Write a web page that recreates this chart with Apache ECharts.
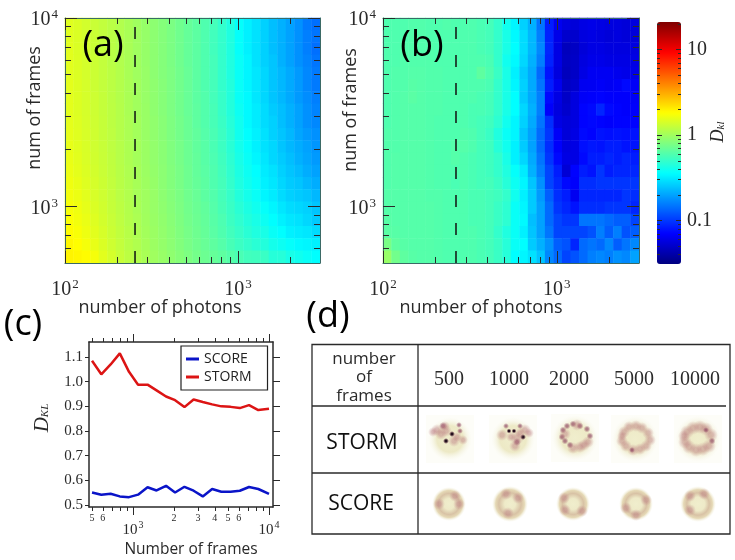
<!DOCTYPE html>
<html><head><meta charset="utf-8">
<style>html,body{margin:0;padding:0;background:#fff}#c{width:735px;height:560px}</style>
<script src="https://cdn.jsdelivr.net/npm/echarts@6/dist/echarts.min.js"></script>
</head><body><div id="c"></div>
<script>
// Panel (a) D_KL, rows top (10^4 frames) to bottom (500 frames), columns 100 to 3000 photons
const dklA = [
[1.50,1.45,1.38,1.30,1.24,1.18,1.12,1.06,1.00,.94,.89,.84,.79,.74,.69,.65,.60,.56,.50,.44,.37,.33,.30,.27,.24,.22,.20,.18,.155,.145],
[1.50,1.45,1.38,1.31,1.24,1.18,1.12,1.06,1.00,.94,.89,.84,.79,.74,.69,.65,.60,.55,.50,.44,.37,.33,.30,.27,.24,.22,.20,.18,.16,.15],
[1.52,1.45,1.38,1.31,1.24,1.18,1.12,1.06,1.00,.94,.89,.84,.79,.74,.69,.65,.60,.55,.50,.44,.37,.33,.30,.27,.24,.22,.20,.18,.16,.145],
[1.52,1.46,1.39,1.32,1.25,1.18,1.12,1.06,1.00,.94,.89,.84,.79,.74,.69,.65,.60,.56,.50,.44,.38,.34,.30,.27,.25,.22,.20,.18,.165,.15],
[1.52,1.46,1.39,1.32,1.25,1.19,1.13,1.06,1.00,.95,.89,.84,.80,.75,.70,.65,.60,.56,.50,.44,.38,.34,.31,.28,.25,.23,.21,.19,.17,.155],
[1.54,1.47,1.40,1.32,1.25,1.19,1.13,1.07,1.01,.95,.90,.85,.80,.75,.70,.65,.60,.56,.50,.45,.38,.34,.31,.28,.25,.23,.21,.19,.17,.155],
[1.54,1.47,1.40,1.33,1.26,1.19,1.13,1.07,1.01,.95,.90,.85,.80,.75,.70,.65,.61,.56,.51,.45,.38,.35,.31,.28,.25,.23,.21,.19,.175,.16],
[1.54,1.47,1.40,1.33,1.26,1.20,1.14,1.07,1.01,.96,.90,.85,.80,.75,.70,.66,.61,.57,.51,.45,.39,.35,.32,.29,.26,.24,.22,.20,.18,.165],
[1.55,1.48,1.41,1.34,1.27,1.20,1.14,1.08,1.02,.96,.91,.86,.81,.76,.71,.66,.61,.57,.52,.46,.40,.35,.32,.29,.27,.24,.22,.20,.18,.17],
[1.56,1.49,1.42,1.35,1.27,1.21,1.14,1.08,1.02,.96,.91,.86,.81,.76,.71,.67,.62,.58,.53,.47,.40,.36,.33,.30,.27,.25,.23,.205,.19,.18],
[1.58,1.50,1.43,1.35,1.28,1.21,1.15,1.09,1.03,.97,.92,.87,.82,.77,.72,.67,.63,.58,.53,.47,.41,.37,.33,.30,.28,.25,.23,.215,.20,.185],
[1.60,1.52,1.44,1.36,1.29,1.22,1.15,1.09,1.03,.97,.92,.87,.82,.77,.72,.68,.63,.59,.54,.48,.42,.38,.34,.31,.28,.26,.24,.22,.205,.19],
[1.62,1.54,1.46,1.38,1.30,1.23,1.16,1.10,1.04,.98,.93,.88,.83,.78,.73,.68,.64,.60,.55,.49,.43,.39,.36,.32,.30,.27,.25,.235,.215,.20],
[1.66,1.58,1.48,1.40,1.32,1.24,1.17,1.11,1.05,.99,.94,.88,.83,.78,.73,.69,.65,.60,.56,.50,.44,.40,.37,.33,.31,.28,.26,.25,.23,.215],
[1.70,1.62,1.52,1.42,1.34,1.26,1.18,1.12,1.05,1.00,.95,.89,.84,.79,.74,.70,.65,.61,.56,.51,.45,.41,.38,.34,.32,.29,.27,.26,.25,.23],
[1.74,1.66,1.56,1.45,1.36,1.27,1.20,1.13,1.06,1.00,.95,.90,.85,.80,.75,.71,.67,.62,.57,.52,.47,.43,.40,.37,.34,.31,.29,.28,.27,.25],
[1.80,1.70,1.60,1.48,1.38,1.29,1.21,1.14,1.08,1.01,.96,.91,.86,.81,.76,.72,.68,.63,.59,.53,.49,.45,.42,.39,.36,.33,.31,.30,.28,.26],
[1.86,1.76,1.64,1.52,1.41,1.31,1.23,1.16,1.09,1.02,.97,.92,.87,.82,.77,.73,.69,.64,.60,.55,.51,.47,.44,.42,.38,.36,.33,.32,.31,.29],
[1.92,1.84,1.72,1.58,1.45,1.34,1.25,1.17,1.11,1.04,.98,.93,.88,.83,.78,.74,.70,.66,.62,.57,.53,.50,.47,.45,.41,.39,.37,.35,.34,.33],
[1.96,1.92,1.86,1.72,1.52,1.40,1.28,1.20,1.13,1.06,1.00,.95,.90,.85,.80,.76,.72,.69,.66,.62,.58,.55,.54,.52,.46,.46,.42,.40,.38,.36]
];
// Panel (b) D_KL, same layout as panel (a)
const dklB = [
[.60,.60,.60,.61,.61,.60,.60,.61,.60,.60,.60,.58,.56,.50,.40,.34,.27,.22,.15,.085,.065,.058,.056,.060,.062,.060,.058,.058,.056,.058],
[.60,.60,.60,.61,.61,.60,.60,.60,.60,.60,.60,.58,.56,.50,.42,.35,.29,.23,.16,.088,.062,.052,.052,.058,.060,.058,.056,.058,.056,.056],
[.60,.60,.61,.61,.61,.61,.60,.60,.60,.60,.60,.58,.56,.50,.42,.36,.29,.23,.17,.090,.060,.047,.049,.056,.060,.060,.058,.058,.058,.058],
[.60,.60,.61,.61,.61,.61,.60,.60,.60,.60,.60,.60,.58,.50,.40,.35,.28,.22,.16,.088,.060,.048,.050,.058,.062,.062,.060,.060,.060,.060],
[.60,.61,.61,.62,.62,.61,.61,.60,.60,.60,.60,.66,.60,.52,.42,.33,.26,.21,.14,.080,.058,.047,.050,.060,.066,.066,.066,.064,.062,.062],
[.60,.61,.61,.63,.62,.61,.61,.60,.60,.60,.60,.60,.58,.50,.42,.34,.27,.21,.15,.085,.064,.049,.052,.065,.066,.068,.066,.068,.075,.068],
[.60,.61,.62,.64,.62,.61,.61,.60,.60,.60,.60,.58,.56,.50,.42,.36,.26,.21,.16,.075,.060,.050,.058,.068,.070,.072,.070,.070,.070,.068],
[.60,.61,.62,.62,.62,.61,.61,.60,.60,.60,.58,.58,.56,.50,.42,.36,.28,.22,.16,.070,.058,.052,.058,.072,.075,.090,.075,.072,.070,.070],
[.60,.61,.62,.62,.62,.61,.60,.60,.60,.60,.58,.56,.54,.48,.40,.34,.27,.21,.15,.095,.060,.056,.058,.072,.074,.072,.070,.072,.072,.072],
[.61,.61,.62,.62,.62,.61,.60,.60,.60,.61,.60,.56,.52,.44,.38,.34,.25,.20,.14,.10,.068,.056,.060,.075,.072,.080,.078,.080,.078,.080],
[.61,.61,.62,.62,.62,.61,.60,.60,.62,.62,.60,.56,.54,.46,.40,.33,.26,.20,.14,.095,.070,.058,.060,.078,.082,.08,.085,.085,.08,.08],
[.61,.62,.62,.62,.62,.61,.60,.60,.62,.60,.58,.56,.54,.50,.42,.33,.28,.21,.15,.10,.075,.060,.060,.075,.085,.085,.09,.085,.09,.085],
[.61,.62,.62,.62,.62,.61,.60,.60,.60,.60,.58,.56,.54,.50,.44,.37,.32,.22,.16,.11,.085,.055,.072,.085,.08,.10,.085,.09,.09,.09],
[.61,.62,.62,.62,.62,.61,.60,.60,.58,.60,.58,.56,.56,.52,.46,.39,.34,.25,.18,.11,.09,.075,.070,.095,.095,.10,.10,.10,.10,.10],
[.62,.62,.62,.62,.62,.61,.61,.60,.60,.60,.58,.58,.56,.54,.50,.40,.33,.26,.19,.13,.095,.085,.065,.09,.09,.09,.09,.09,.10,.095],
[.62,.62,.62,.62,.62,.62,.61,.60,.60,.60,.58,.58,.56,.52,.48,.38,.34,.26,.20,.14,.10,.09,.08,.095,.095,.095,.10,.10,.10,.09],
[.63,.62,.62,.62,.62,.62,.61,.60,.60,.60,.58,.58,.56,.52,.48,.38,.35,.24,.20,.14,.11,.10,.10,.15,.15,.15,.14,.13,.13,.11],
[.64,.63,.62,.62,.62,.62,.61,.60,.60,.60,.60,.58,.56,.50,.44,.38,.33,.25,.20,.15,.11,.11,.11,.11,.12,.16,.13,.16,.12,.13],
[.78,.66,.63,.62,.62,.62,.61,.60,.60,.60,.60,.58,.56,.52,.46,.38,.36,.26,.22,.18,.13,.12,.09,.14,.15,.14,.17,.13,.15,.17],
[.95,.75,.66,.63,.62,.62,.61,.60,.60,.60,.60,.58,.56,.52,.46,.36,.34,.30,.25,.17,.14,.11,.12,.14,.16,.17,.16,.18,.17,.20]
];
const heatPhotonCols = ['100','112','126','141','158','178','200','224','251','282','316','355','398','447','501','562','631','708','794','891','1000','1122','1259','1413','1585','1778','1995','2239','2512','2818'];
const heatFrameRows = ['500','582','677','788','917','1067','1241','1444','1680','1955','2275','2647','3080','3584','4170','4852','5646','6570','7644','8895'];
const thresholdPhotonsA = 254;
const thresholdPhotonsB = 263;

// Panel (c)
const framesC = [500,585,685,800,935,1090,1280,1490,1750,2040,2390,2790,3260,3820,4460,5220,6100,7130,8340,10000];
const scoreC = [.551,.542,.546,.535,.532,.542,.572,.559,.578,.551,.574,.558,.535,.565,.554,.554,.558,.573,.565,.545];
const stormC = [1.085,1.03,1.07,1.115,1.04,.988,.988,.965,.94,.925,.897,.928,.918,.908,.90,.898,.893,.905,.885,.89];

// Tick lists
const majorPhotons = [100,1000];
const minorPhotons = [200,300,400,500,600,700,800,900,2000,3000];
const majorFrames = [1000,10000];
const minorFrames = [600,700,800,900,2000,3000,4000,5000,6000,7000,8000,9000];
const majorBar = [0.1,1,10];
const minorBar = [.04,.05,.06,.07,.08,.09,.2,.3,.4,.5,.6,.7,.8,.9,2,3,4,5,6,7,8,9,20];
const minorFramesC = [500,600,700,800,900,2000,3000,4000,5000,6000,7000,8000,9000];
const minorFrameLabelsC = [500,600,2000,3000,4000,5000,6000];
const dklTicksC = [.5,.6,.7,.8,.9,1.0,1.1];

// Panel (d)
const tableFrames = ['500','1000','2000','5000','10000'];
const tableRows = ['STORM','SCORE'];

const SERIF = '"Liberation Serif"', SANS = '"Open Sans"', INK = '#2a2a2a';

const grids = [], xAxes = [], yAxes = [], series = [];
function addGrid(r){ grids.push({left:r.left,top:r.top,width:r.width,height:r.height,containLabel:false}); return grids.length-1; }
function expRich(fs,ss){ return {a:{fontFamily:SERIF,fontSize:fs,color:INK},b:{fontFamily:SERIF,fontSize:ss,color:INK,padding:[0,0,10,1]}}; }
const expFmt = v => { const p = Math.round(Math.log10(v)); return '{a|10}{b|'+p+'}'; };

function heat(rect, rows, name){
  const g = addGrid(rect);
  xAxes.push({type:'category',gridIndex:g,data:heatPhotonCols,show:false});
  yAxes.push({type:'category',gridIndex:g,data:heatFrameRows,show:false});
  const data = [];
  rows.forEach((row,r)=>row.forEach((v,c)=>data.push([c,rows.length-1-r,Math.log10(v)])));
  series.push({name,type:'heatmap',xAxisIndex:xAxes.length-1,yAxisIndex:yAxes.length-1,data,silent:true,progressive:0,animation:false,itemStyle:{borderWidth:0}});
}
function logPair(g,dir,type,min,max,opts){
  const list = dir==='x'?xAxes:yAxes;
  const pos = dir==='x'?['bottom','top']:['left','right'];
  pos.forEach((p,i)=>{
    const o = {type,logBase:10,gridIndex:g,position:p,min,max,z:10,splitLine:{show:false},
      axisLine:{show:opts.line!==false,onZero:false,lineStyle:{color:opts.color||'#336655',width:opts.lw||1}},
      axisTick:{show:opts.ticks!==false,inside:opts.inside,length:opts.len,customValues:opts.ticksV,lineStyle:{color:INK,width:1}},
      axisLabel:{show:false}};
    if(opts.labels && i===(opts.labelIdx||0)){
      o.axisLabel = Object.assign({show:true,customValues:opts.labels,hideOverlap:false,margin:opts.margin,formatter:opts.fmt,showMinLabel:true,showMaxLabel:true},opts.labelStyle||{});
    }
    list.push(o);
  });
}
function heatFrame(rect, xr, threshold){
  const gMin = addGrid(rect);
  logPair(gMin,'x','log',xr[0],xr[1],{line:true,color:'#3b6a66',inside:true,len:6,ticksV:minorPhotons});
  logPair(gMin,'y','log',500,10000,{line:true,color:'#3b6a66',inside:true,len:6,ticksV:minorFrames});
  const gMaj = addGrid(rect);
  logPair(gMaj,'x','log',xr[0],xr[1],{line:false,inside:true,len:12,ticksV:majorPhotons,labels:majorPhotons,margin:15,fmt:expFmt,labelStyle:{rich:expRich(20,13)}});
  logPair(gMaj,'y','log',500,10000,{line:false,inside:true,len:12,ticksV:majorFrames,labels:majorFrames,margin:7,fmt:expFmt,labelStyle:{padding:[4,0,0,0],rich:expRich(20,13)}});
  series.push({type:'line',xAxisIndex:xAxes.length-2,yAxisIndex:yAxes.length-2,z:12,silent:true,symbol:'none',animation:false,
    data:[[threshold,500],[threshold,10000]],lineStyle:{color:'#111',width:1.5,type:[12,16]}});
}
const rectA = {left:65,top:18,width:255,height:245};
const rectB = {left:383,top:18,width:256,height:245};
heat(rectA,dklA,'a');
heat(rectB,dklB,'b');
heatFrame(rectA,[100,2980],thresholdPhotonsA);
heatFrame(rectB,[100,2970],thresholdPhotonsB);

// colour bar axes
const rectBar = {left:657,top:22,width:24,height:242};
{
  const g1 = addGrid(rectBar);
  xAxes.push({type:'value',gridIndex:g1,show:false});
  logPair(g1,'y','log',0.031,21,{line:false,inside:true,len:3,ticksV:minorBar});
  const g2 = addGrid(rectBar);
  xAxes.push({type:'value',gridIndex:g2,show:false});
  logPair(g2,'y','log',0.031,21,{line:false,inside:true,len:5,ticksV:majorBar,labels:majorBar,labelIdx:1,margin:6,fmt:v=>String(v),labelStyle:{fontFamily:SERIF,fontSize:20,color:INK,padding:[7,0,0,0]}});
}

// Panel (c)
const rectC = {left:89,top:342,width:184,height:165};
{
  const gMin = addGrid(rectC);
  logPair(gMin,'x','log',475,10700,{line:true,color:INK,lw:1.5,inside:false,len:4,ticksV:minorFramesC,labels:minorFrameLabelsC,margin:6,
    fmt:v=>{const s=String(v);return s[0];},labelStyle:{fontFamily:SERIF,fontSize:10,color:INK}});
  yAxes.push({type:'value',gridIndex:gMin,position:'left',min:.492,max:1.161,z:10,axisLine:{show:true,onZero:false,lineStyle:{color:INK,width:1.5}},axisTick:{show:true,length:4,customValues:dklTicksC,lineStyle:{color:INK}},
    axisLabel:{show:true,customValues:dklTicksC,margin:6,formatter:v=>v.toFixed(1),fontFamily:SERIF,fontSize:15,color:INK},splitLine:{show:false}});
  yAxes.push({type:'value',gridIndex:gMin,position:'right',min:.492,max:1.161,z:10,axisLine:{show:true,onZero:false,lineStyle:{color:INK,width:1.5}},axisTick:{show:true,length:7,customValues:dklTicksC,lineStyle:{color:INK}},axisLabel:{show:false},splitLine:{show:false}});
  const xi = xAxes.length-2, yi = yAxes.length-2;
  const gMaj = addGrid(rectC);
  logPair(gMaj,'x','log',475,10700,{line:false,inside:false,len:8,ticksV:[1000,10000],labels:[1000,10000],margin:13,fmt:expFmt,labelStyle:{rich:expRich(15,10)}});
  yAxes.push({type:'value',gridIndex:gMaj,min:.492,max:1.161,show:false});
  const pts = ys => framesC.map((f,i)=>[f,ys[i]]);
  series.push({name:'SCORE',type:'line',xAxisIndex:xi,yAxisIndex:yi,z:6,symbol:'none',animation:false,silent:true,color:'#0a14c8',data:pts(scoreC),lineStyle:{color:'#0a14c8',width:2.5}});
  series.push({name:'STORM',type:'line',xAxisIndex:xi,yAxisIndex:yi,z:6,symbol:'none',animation:false,silent:true,color:'#dc1414',data:pts(stormC),lineStyle:{color:'#dc1414',width:2.5}});
}

// Graphics: labels
const T = (text,x,y,fs,o={}) => ({type:'text',x,y,rotation:o.rot||0,z:30,style:Object.assign({text,fill:INK,font:(o.italic?'italic ':'')+fs+'px '+(o.fam||SANS),textAlign:'center',textVerticalAlign:'middle'},o.style||{})});
const gfx = [
  T('(a)',103,46,36,{style:{fill:'#000'}}), T('(b)',422,46,36,{style:{fill:'#000'}}),
  T('(c)',23,325,36,{style:{fill:'#000'}}), T('(d)',328,317,36,{style:{fill:'#000'}}),
  T('number of photons',160,308,18), T('number of photons',481,308,18),
  T('num of frames',35,108,18,{rot:Math.PI/2}), T('num of frames',351,110,18,{rot:Math.PI/2}),
  T('Number of frames',191,550,15.5),
];
gfx.push({type:'text',x:718,y:132,rotation:Math.PI/2,z:30,style:{text:'{d|D}{k|kl}',rich:{d:{font:'italic 18px '+SERIF,fill:INK},k:{font:'italic 11px '+SERIF,fill:INK,padding:[6,0,0,0]}},textAlign:'center',textVerticalAlign:'middle'}});
gfx.push({type:'text',x:42,y:418,rotation:Math.PI/2,z:30,style:{text:'{d|D}{k|KL}',rich:{d:{font:'italic 21px '+SERIF,fill:INK},k:{font:'italic 11px '+SERIF,fill:INK,padding:[7,0,0,0]}},textAlign:'center',textVerticalAlign:'middle'}});

// Table (d)
gfx.push({type:'rect',z:20,shape:{x:312,y:344.5,width:418,height:189.5},style:{fill:'#fff',stroke:INK,lineWidth:1.3}});
[[418,344.5,418,534],[312,406,726,406],[312,473,730,473]].forEach(l=>gfx.push({type:'line',z:29,shape:{x1:l[0],y1:l[1],x2:l[2],y2:l[3]},style:{stroke:INK,lineWidth:1.3}}));
gfx.push(T('number',364,359,17), T('of',364,377,17), T('frames',364,396,17));
[449,509,569,634,695].forEach((x,i)=>gfx.push(T(tableFrames[i],x,380,20,{fam:SERIF})));
gfx.push(T(tableRows[0],362,443,21,{style:{fill:'#111'}}), T(tableRows[1],361,504,21,{style:{fill:'#111'}}));

const rg = (stops)=>({type:'radial',x:.5,y:.5,r:.5,colorStops:stops.map(s=>({offset:s[0],color:s[1]}))});
const blobColor = {d:'rgba(25,5,20,.95)',m:'rgba(130,50,85,.6)',l:'rgba(180,110,120,.42)'};
const blobFade = {d:'rgba(110,40,70,0)',m:'rgba(150,80,100,0)',l:'rgba(190,130,130,0)'};
function blob(x,y,k,r){ gfx.push({type:'circle',z:24,shape:{cx:x,cy:y,r},style:{fill:rg([[0,blobColor[k]],[.35,blobColor[k]],[1,blobFade[k]]])}}); }
// STORM thumbnails
const stormCenters = [[450,439],[513,439],[575,438],[635,439],[698,439]];
const stormHaloR = [22,22,23,23,23];
const stormRing = [
 [[-7,-13,'m',4],[2,-5,'d',3],[-4,2,'d',3],[9,-14,'m',3],[10,-8,'m',3],[-13,-9,'l',6],[13,1,'l',5],[7,-2,'l',5],[-4,-8,'l',6],[-9,-5,'l',6],[4,2,'l',6],[-5,-13,'l',5],[-17,-7,'l',5]],
 [[-4,-8,'d',2.5],[1,-8,'d',2.5],[7,-13,'m',3],[10,-2,'d',3],[4,3,'m',4],[-7,-13,'m',3],[12,-9,'l',6],[16,-6,'l',5],[7,-6,'l',5],[2,7,'l',6],[4,-1,'l',7],[-11,-4,'l',6],[-2,-2,'l',5]],
 [[-12,-8,'m',3.5],[-8,-12,'m',3.5],[-2,-14,'m',3.5],[5,-12,'m',3.5],[12,-9,'m',3.5],[15,-2,'m',3.5],[13,4,'l',6],[-13,-1,'m',3.5],[-10,3,'m',3.5],[-5,7,'m',3.5],[-2,10,'l',6],[5,9,'l',6],[9,7,'l',6],[-10,-4,'l',6],[2,-13,'l',6]],
 [[-11,-7,'l',6],[-6,-12,'l',6],[1,-13,'l',6],[7,-11,'l',6],[13,-6,'l',6],[15,1,'l',6],[11,7,'l',6],[5,10,'l',6],[-2,11,'l',6],[-9,7,'l',6],[-13,2,'l',6],[-13,-3,'l',5],[-3,11,'m',3]],
 [[-11,-7,'l',7],[-5,-11,'l',7],[2,-12,'l',7],[8,-10,'l',7],[13,-4,'l',7],[14,2,'m',3.5],[11,7,'l',7],[5,10,'l',7],[-2,11,'l',7],[-9,8,'l',7],[-13,3,'l',7],[-14,-3,'l',6],[8,-9,'m',3]]
];
stormCenters.forEach((c,i)=>{
  gfx.push({type:'rect',z:21,shape:{x:c[0]-24,y:c[1]-24,width:48,height:48},style:{fill:'#fdfdf8'}});
  gfx.push({type:'circle',z:22,shape:{cx:c[0],cy:c[1],r:stormHaloR[i]},style:{fill:rg([[0,'rgba(240,238,205,1)'],[.6,'rgba(236,232,195,.95)'],[1,'rgba(248,248,235,0)']])}});
  stormRing[i].forEach(b=>blob(c[0]+b[0],c[1]+b[1],b[2],b[3]));
});
// SCORE thumbnails
const scoreCenters = [[449,504],[510,504],[573,504],[636,504],[698,504]];
const scoreR = [17,18,17,17,18];
const scoreHole = [.32,.3,.32,.36,.38];
const scoreTint = [
 [[-10,0],[10,0],[6,-8]],
 [[-4,-10],[8,-6],[-2,9]],
 [[-9,-6],[9,7],[-8,6]],
 [[-10,4],[10,-4],[0,11]],
 [[-8,-8],[6,-10],[-8,6]]
];
scoreCenters.forEach((c,i)=>{
  const h = scoreHole[i];
  gfx.push({type:'circle',z:22,shape:{cx:c[0],cy:c[1],r:scoreR[i]},style:{fill:rg([[0,'rgba(240,238,205,1)'],[h,'rgba(238,234,200,1)'],[.62,'rgba(216,194,165,1)'],[.8,'rgba(228,215,178,.95)'],[1,'rgba(245,245,225,0)']])}});
  scoreTint[i].forEach(t=>blob(c[0]+t[0],c[1]+t[1],'l',6));
});

const chart = echarts.init(document.getElementById('c'),null,{renderer:'canvas'});
chart.setOption({
  animation:false,backgroundColor:'#fff',
  grid:grids,xAxis:xAxes,yAxis:yAxes,series,
  visualMap:[{type:'continuous',min:-1.5,max:1.32,seriesIndex:[0,1],dimension:2,left:657,top:22,itemWidth:24,itemHeight:242,padding:0,text:null,showLabel:false,calculable:false,realtime:false,
    inRange:{color:['#00007f','#0000ff','#007fff','#00ffff','#7fff7f','#ffff00','#ff7f00','#ff0000','#7f0000']},textStyle:{color:'rgba(0,0,0,0)',fontSize:1}}],
  legend:{show:true,data:['SCORE','STORM'],orient:'vertical',left:181,top:346,padding:[6,16,6,5],itemGap:4,itemWidth:13,itemHeight:3,icon:'rect',backgroundColor:'#fff',borderColor:'#222',borderWidth:1.2,z:8,selectedMode:false,textStyle:{fontFamily:SANS,fontSize:14,color:'#222'}},
  graphic:{elements:gfx}
});
</script></body></html>
